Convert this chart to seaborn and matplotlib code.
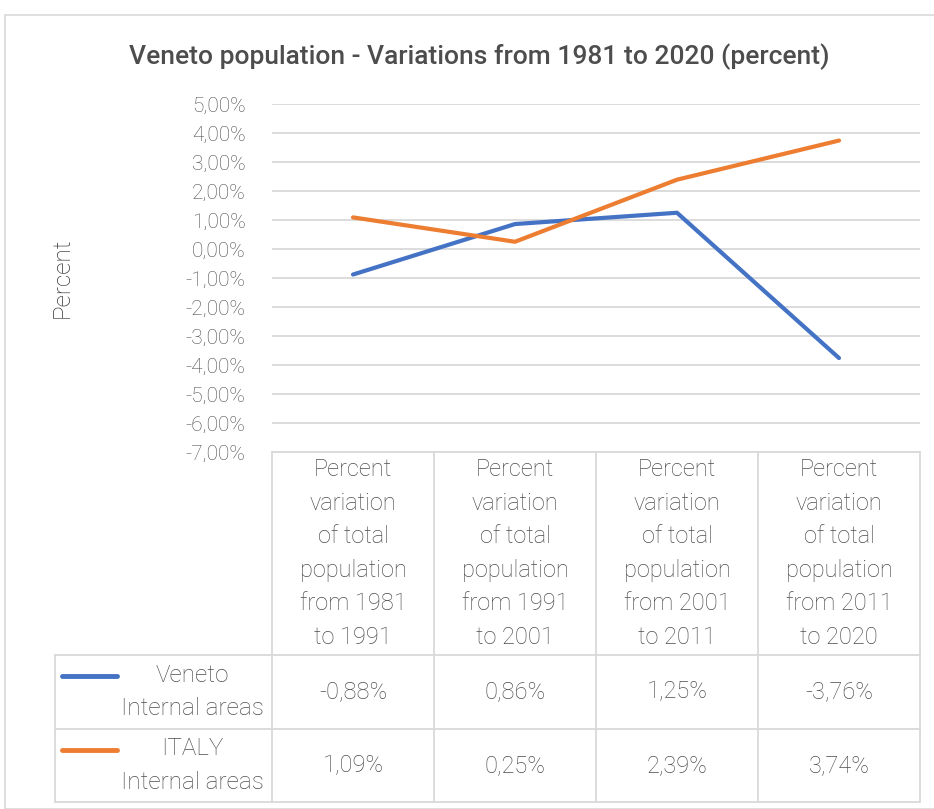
import numpy as np
import pandas as pd
import matplotlib
matplotlib.use('Agg')
import matplotlib.pyplot as plt
import matplotlib.ticker as mticker
from matplotlib.patches import Rectangle
import seaborn as sns

# Dati
periods = ['from 1981\nto 1991', 'from 1991\nto 2001', 'from 2001\nto 2011', 'from 2011\nto 2020']
headers = ['Percent\nvariation\nof total\npopulation\n' + p for p in periods]
veneto = [-0.88, 0.86, 1.25, -3.76]
italy = [1.09, 0.25, 2.39, 3.74]
series_names = ['Veneto\nInternal areas', 'ITALY\nInternal areas']
colors = ['#4472C4', '#ED7D31']
yticks = list(range(-7, 6))

df = pd.DataFrame({
    'period': headers * 2,
    'value': veneto + italy,
    'series': [series_names[0]] * 4 + [series_names[1]] * 4,
})

sns.set_theme(style='white')
plt.rcParams['font.family'] = ['Roboto', 'DejaVu Sans']
txt = '#4d4d4d'
fw = 'light'

W, H = 934, 809
fig = plt.figure(figsize=(W / 100, H / 100), dpi=100)

# cornice del grafico
fig.patches.append(Rectangle((5 / W, 0), 1, 1 - 15 / H, transform=fig.transFigure,
                             fill=False, edgecolor='#D9D9D9', lw=1.2))

# area del grafico
x0, x1, ytop, ybot = 272, 920, 104, 452
ax = fig.add_axes([x0 / W, 1 - ybot / H, (x1 - x0) / W, (ybot - ytop) / H])
sns.lineplot(data=df, x='period', y='value', hue='series', palette=colors,
             lw=3, ax=ax, legend=False, sort=False)
ax.set_xlim(-0.5, 3.5)
ax.set_ylim(-7, 5)
ax.set_yticks(yticks)
ax.yaxis.set_major_formatter(mticker.FuncFormatter(lambda v, p: f'{v:.2f}%'.replace('.', ',')))
ax.tick_params(axis='y', length=0, pad=19, labelsize=15, labelcolor=txt)
for t in ax.get_yticklabels():
    t.set_fontweight(fw)
ax.set_xticks([])
ax.set_xlabel('')
ax.set_ylabel('')
for y in yticks:
    ax.axhline(y, color='#D9D9D9', lw=1.3, zorder=0)
for s in ax.spines.values():
    s.set_visible(False)
for l in ax.get_lines():
    l.set_solid_capstyle('round')

fig.text(62 / W, 1 - 278 / H, 'Percent', rotation=90, ha='center', va='center',
         fontsize=17.5, fontweight=fw, color='#333333')
fig.text(479 / W, 1 - 57 / H, 'Veneto population - Variations from 1981 to 2020 (percent)',
         ha='center', va='center', fontsize=19, fontweight='medium', color=txt)

# tabella dati
tl, tb = 55, 802
unit = (x1 - x0) / 4
tax = fig.add_axes([tl / W, 1 - tb / H, (x1 - tl) / W, (tb - ybot) / H])
tax.set_xlim(-0.5 - (x0 - tl) / unit, 3.5)
tax.set_ylim(tb - ybot, 0)
tax.axis('off')
rows = [0, 655 - ybot, 729 - ybot, tb - ybot]
grid = dict(color='#D9D9D9', lw=1.3, clip_on=False)
for i in range(5):
    tax.plot([i - 0.5, i - 0.5], [rows[0], rows[3]], **grid)
tax.plot([tax.get_xlim()[0]] * 2, [rows[1], rows[3]], **grid)
tax.plot([-0.5, 3.5], [rows[0], rows[0]], **grid)
for r in rows[1:]:
    tax.plot([tax.get_xlim()[0], 3.5], [r, r], **grid)

for i, h in enumerate(headers):
    tax.text(i, (rows[0] + rows[1]) / 2, h, ha='center', va='center', fontsize=17,
             fontweight=fw, color=txt, linespacing=1.58)

for k, vals in enumerate([veneto, italy]):
    yc = (rows[k + 1] + rows[k + 2]) / 2
    for i, v in enumerate(vals):
        tax.text(i, yc, f'{v:.2f}%'.replace('.', ','), ha='center', va='center',
                 fontsize=17, fontweight=fw, color=txt)
    xl = tax.get_xlim()[0]
    tax.plot([xl + 0.045, xl + 0.385], [yc - 16, yc - 16], color=colors[k], lw=3.5,
             solid_capstyle='round', clip_on=False)
    tax.text(-0.5 - 0.49, yc, series_names[k], ha='center', va='center', fontsize=17.5,
             fontweight=fw, color=txt, linespacing=1.6)

fig.savefig('out.png', dpi=100)
